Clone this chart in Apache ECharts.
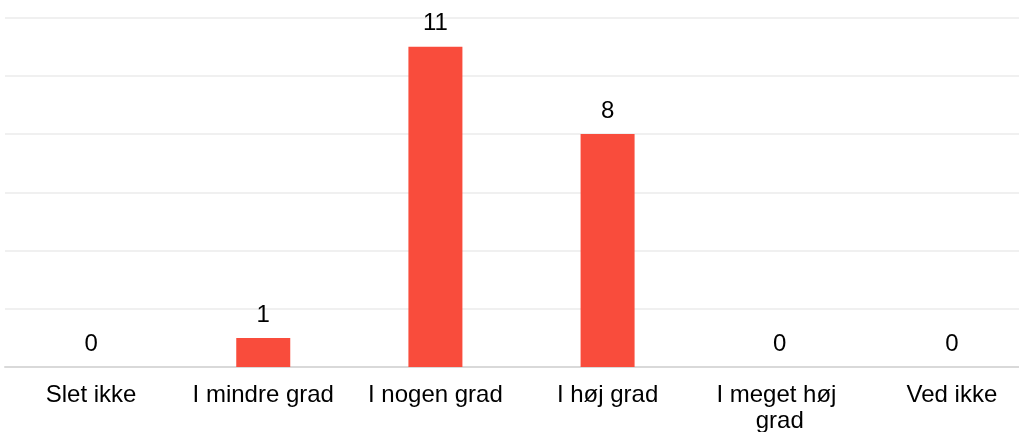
<!DOCTYPE html>
<html>
<head>
<meta charset="utf-8">
<script src="https://cdn.jsdelivr.net/npm/echarts@6/dist/echarts.min.js"></script>
<style>
  html, body { margin: 0; padding: 0; background: #fff; overflow: hidden; }
  #chart { width: 1019px; height: 432px; }
</style>
</head>
<body>
<div id="chart"></div>
<script>
// Answer categories and response counts
const categories = ['Slet ikke', 'I mindre grad', 'I nogen grad', 'I høj grad', 'I meget høj grad', 'Ved ikke'];
const counts = [0, 1, 11, 8, 0, 0];

// Value axis range
const yMin = 0;
const yMax = 12;
const yInterval = 2;

const chart = echarts.init(document.getElementById('chart'));
chart.setOption({
  animation: false,
  backgroundColor: '#ffffff',
  // plot area runs slightly past the right edge of the canvas
  grid: {
    left: 5, top: 17.5, width: 1033, height: 349.5,
    containLabel: false,
    outerBoundsMode: 'none'
  },
  xAxis: {
    type: 'category',
    data: categories,
    axisLine: { show: true, lineStyle: { color: '#d9d9d9', width: 2 } },
    axisTick: { show: false },
    axisLabel: {
      interval: 0,
      margin: 15,
      color: '#000',
      fontFamily: 'Liberation Sans, Arial, sans-serif',
      fontSize: 24,
      lineHeight: 26,
      width: 150,
      overflow: 'break'
    },
    splitLine: { show: false }
  },
  yAxis: {
    type: 'value',
    min: yMin,
    max: yMax,
    interval: yInterval,
    axisLine: { show: false },
    axisTick: { show: false },
    axisLabel: { show: false },
    splitLine: { show: true, lineStyle: { color: '#f0f0f0', width: 2 } }
  },
  series: [{
    type: 'bar',
    data: counts,
    barWidth: 54,
    itemStyle: { color: '#f94c3c' },
    label: {
      show: true,
      position: 'top',
      distance: 11,
      color: '#000',
      fontFamily: 'Liberation Sans, Arial, sans-serif',
      fontSize: 24
    }
  }]
});
</script>
</body>
</html>
